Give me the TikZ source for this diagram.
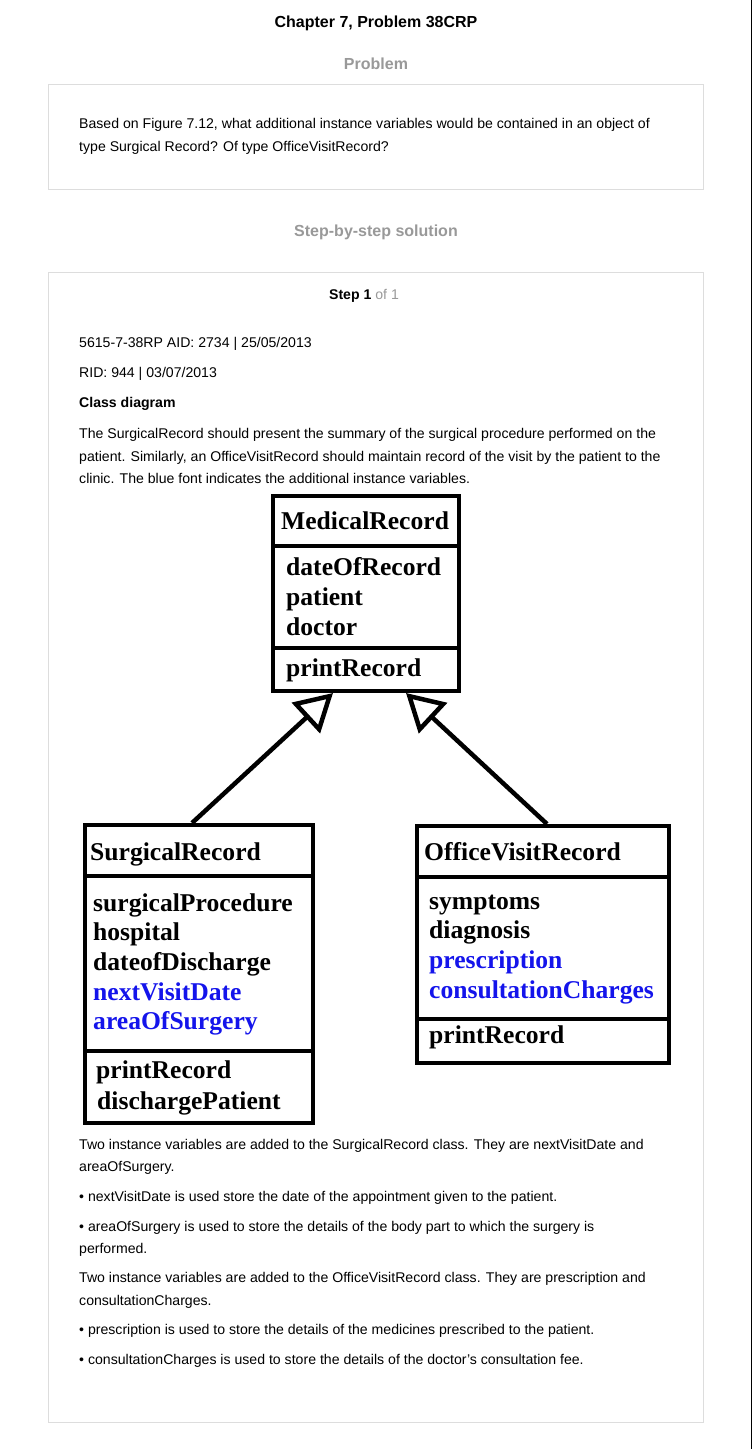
\documentclass[tikz,border=0pt]{standalone}
\usepackage{fontspec}
\setmainfont{Liberation Sans}
\newfontfamily\umlfont{Liberation Serif}
\usetikzlibrary{arrows.meta}
\definecolor{hdgrey}{HTML}{999999}
\definecolor{boxgrey}{HTML}{DDDDDD}
\definecolor{addblue}{RGB}{20,20,235}
\begin{document}
\begin{tikzpicture}[x=1pt,y=-1pt,
  txt/.style={anchor=base west, inner sep=0pt, font=\fontsize{14.1}{16}\selectfont},
  txtb/.style={txt, font=\fontsize{14.1}{16}\selectfont\bfseries},
  head/.style={anchor=base, inner sep=0pt, font=\fontsize{16}{19}\selectfont\bfseries},
  panel/.style={draw=boxgrey, line width=1pt, inner sep=0pt, outer sep=0pt, anchor=north west},
  classbox/.style={draw=black, line width=4pt, inner sep=0pt, outer sep=2pt, anchor=north west},
  divider/.style={line width=4pt},
  umltxt/.style={anchor=base west, inner sep=0pt, font=\umlfont\bfseries\fontsize{25.6}{30}\selectfont},
  addvar/.style={umltxt, text=addblue},
  inherit/.style={line width=4.5pt, -{Triangle[open, length=37pt 0 0, width=41pt 0 0]}}
]
\useasboundingbox (0,0) rectangle (752,1449);
\fill[white] (0,0) rectangle (752,1449);
\draw[line width=1.5pt] (751.25,0) -- (751.25,1449);

% headings
\node[head] (title) at (376,27) {Chapter 7, Problem 38CRP};
\node[head, text=hdgrey] (probhead) at (376,69) {Problem};
\node[head, text=hdgrey] (solhead) at (376,236) {Step-by-step solution};

% problem panel
\node[panel, minimum width=655pt, minimum height=105pt] (probbox) at (48,84) {};
\node[txt] (p1) at (79,128.5) {Based on Figure 7.12, what additional instance variables would be contained in an object of};
\node[txt] (p2) at (79,151) {type Surgical Record? Of type OfficeVisitRecord?};

% solution panel
\node[panel, minimum width=655pt, minimum height=1150pt] (solbox) at (48,272) {};
\node[anchor=base, inner sep=0pt, font=\fontsize{14.1}{16}\selectfont] (step) at (364,299) {\textbf{Step 1} \textcolor{hdgrey}{of 1}};
\node[txt] (s1) at (79,347.5) {5615-7-38RP AID: 2734 | 25/05/2013};
\node[txt] (s2) at (79,377) {RID: 944 | 03/07/2013};
\node[txtb] (s3) at (79,407.5) {Class diagram};
\node[txt] (s4) at (79,438.5) {The SurgicalRecord should present the summary of the surgical procedure performed on the};
\node[txt] (s5) at (79,461) {patient. Similarly, an OfficeVisitRecord should maintain record of the visit by the patient to the};
\node[txt] (s6) at (79,483.5) {clinic. The blue font indicates the additional instance variables.};

% MedicalRecord
\node[classbox, minimum width=186pt, minimum height=195pt] (mr) at (271,494) {};
\draw[divider] (mr.west |- 0,546) -- (mr.east |- 0,546);
\draw[divider] (mr.west |- 0,648) -- (mr.east |- 0,648);
\node[umltxt] (mrn) at (281,529) {MedicalRecord};
\node[umltxt] (mra1) at (286,575) {dateOfRecord};
\node[umltxt] (mra2) at (286,605) {patient};
\node[umltxt] (mra3) at (286,635) {doctor};
\node[umltxt] (mrm1) at (286,676) {printRecord};

% SurgicalRecord
\node[classbox, minimum width=228pt, minimum height=298pt] (sr) at (83,823) {};
\draw[divider] (sr.west |- 0,876) -- (sr.east |- 0,876);
\draw[divider] (sr.west |- 0,1051) -- (sr.east |- 0,1051);
\node[umltxt] (srn) at (90,860) {SurgicalRecord};
\node[umltxt] (sra1) at (93,911) {surgicalProcedure};
\node[umltxt] (sra2) at (93,940) {hospital};
\node[umltxt] (sra3) at (93,970) {dateofDischarge};
\node[addvar] (sra4) at (93,1000) {nextVisitDate};
\node[addvar] (sra5) at (93,1029) {areaOfSurgery};
\node[umltxt] (srm1) at (96,1078) {printRecord};
\node[umltxt] (srm2) at (97,1109) {dischargePatient};

% OfficeVisitRecord
\node[classbox, minimum width=252pt, minimum height=237pt] (ov) at (415,824) {};
\draw[divider] (ov.west |- 0,877) -- (ov.east |- 0,877);
\draw[divider] (ov.west |- 0,1019) -- (ov.east |- 0,1019);
\node[umltxt] (ovn) at (424,860) {OfficeVisitRecord};
\node[umltxt] (ova1) at (429,909) {symptoms};
\node[umltxt] (ova2) at (429,938) {diagnosis};
\node[addvar] (ova3) at (429,968) {prescription};
\node[addvar] (ova4) at (429,998) {consultationCharges};
\node[umltxt] (ovm1) at (429,1043) {printRecord};

% generalisation arrows
\draw[inherit] ([xshift=-7pt]sr.north) -- ([xshift=-33pt]mr.south);
\draw[inherit] ([xshift=4pt]ov.north) -- ([xshift=40pt]mr.south);

% explanation
\node[txt] (e1) at (79,1149) {Two instance variables are added to the SurgicalRecord class. They are nextVisitDate and};
\node[txt] (e2) at (79,1171.5) {areaOfSurgery.};
\node[txt] (e3) at (79,1201) {• nextVisitDate is used store the date of the appointment given to the patient.};
\node[txt] (e4) at (79,1231) {• areaOfSurgery is used to store the details of the body part to which the surgery is};
\node[txt] (e5) at (79,1253) {performed.};
\node[txt] (e6) at (79,1282) {Two instance variables are added to the OfficeVisitRecord class. They are prescription and};
\node[txt] (e7) at (79,1305) {consultationCharges.};
\node[txt] (e8) at (79,1334.5) {• prescription is used to store the details of the medicines prescribed to the patient.};
\node[txt] (e9) at (79,1364.5) {• consultationCharges is used to store the details of the doctor’s consultation fee.};
\end{tikzpicture}
\end{document}
